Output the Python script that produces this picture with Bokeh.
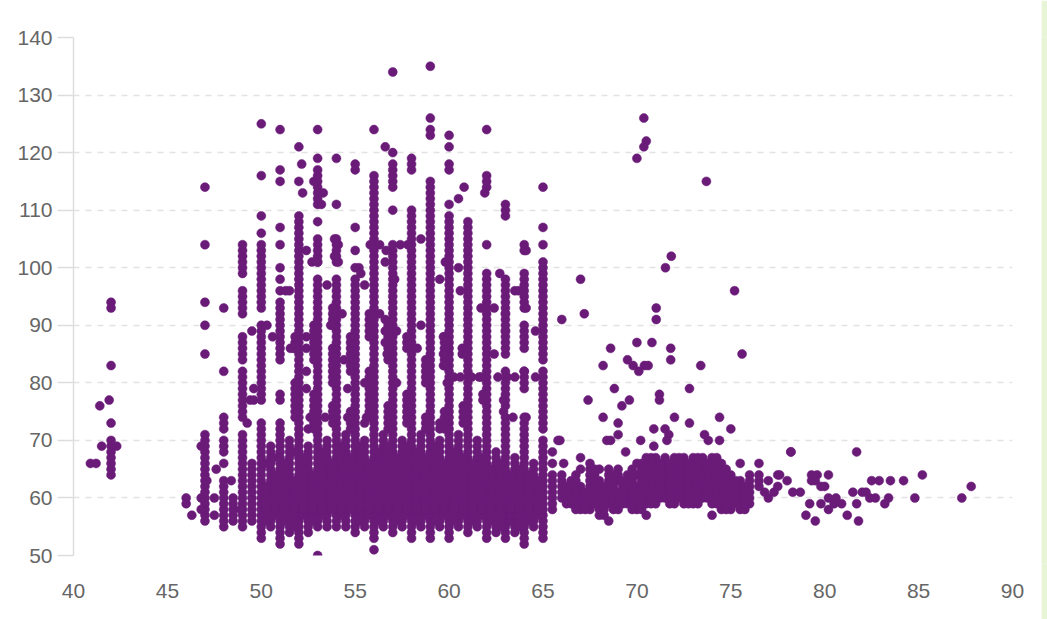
from bokeh.plotting import figure
from bokeh.layouts import row
from bokeh.models import FixedTicker
from bokeh.embed import file_html
from bokeh.resources import INLINE

# ---- data: columns of stacked integer values (x, list of y ranges / single values)
col_x = [42, 47, 48, 49, 50, 51, 52, 53, 54, 55, 56, 57, 58, 59, 60, 61, 62, 63, 64, 65]
col_segs = [
    [(64, 70), 73, 83, 93, 94],
    [(56, 71), 85, 90, 94, 104, 114],
    [(55, 63), 66, (68, 70), (72, 74), 82, 93],
    [(55, 71), (74, 82), (84, 88), (92, 96), (99, 104)],
    [(53, 73), (77, 90), (93, 104), 106, 109, 116, 125],
    [(52, 73), (77, 78), (84, 94), 96, 98, 100, 104, 107, 115, 117, 124],
    [(52, 109), 115, 121],
    [50, (55, 98), (101, 105), 108, (111, 117), 119, 124],
    [(55, 98), (101, 105), 111, 119],
    [(54, 98), 100, 103, 107, (117, 118)],
    [51, (53, 116), 124],
    [(54, 104), 110, (114, 118), 120, 134],
    [(53, 110), (117, 119)],
    [(53, 115), (123, 124), 126, 135],
    [(53, 109), 111, (117, 118), 121, 123],
    [(54, 108)],
    [(53, 99), 104, (114, 116), 124],
    [(53, 74), (76, 82), (85, 98), (109, 111)],
    [(52, 74), (80, 82), (86, 90), (93, 99), (103, 104)],
    [(53, 70), (72, 82), (84, 101), 104, 107, 114],
]

# ---- data: between-column fill of the dense band, side columns and the right-hand cluster
band_x = [47.5, 48.5, 49.5, 50.5, 51.5, 52.5, 53.5, 54.5, 55.5, 56.5, 57.5, 58.5,
          59.5, 60.5, 61.5, 62.5, 63.5, 64.5, 65.5,
          66.0, 66.5, 67.0, 67.5, 68.0, 68.5, 69.0, 69.5, 70.0, 70.5, 71.0, 71.5,
          72.0, 72.5, 73.0, 73.5, 74.0, 74.5, 75.0, 75.5, 76.0, 76.5,
          66.25, 66.75, 67.25, 67.75, 68.25, 68.75, 69.25, 69.75, 70.25, 70.75,
          71.25, 71.75, 72.25, 72.75, 73.25, 73.75, 74.25, 74.75, 75.25, 75.75,
          50.25, 50.75, 51.25, 51.75, 52.25, 52.75, 53.25, 53.75, 54.25, 54.75,
          55.25, 55.75, 56.25, 56.75, 57.25, 57.75, 58.25, 58.75, 59.25, 59.75,
          60.25, 60.75, 61.25, 61.75, 62.25, 62.75, 63.25, 63.75, 64.25, 64.75,
          51.8, 52.8, 53.8, 54.75, 55.75, 56.75, 57.75, 58.75, 59.75, 60.75]
band_segs = [
    [57, 60],
    [(56, 60)],
    [(56, 66)],
    [(55, 69)],
    [(54, 70)],
    [(54, 69), 72],
    [(55, 70)],
    [(55, 71)],
    [(55, 70), 73],
    [(55, 71)],
    [(55, 70)],
    [(55, 71)],
    [(55, 70), 72],
    [(55, 71)],
    [(55, 70)],
    [(54, 68)],
    [(54, 67)],
    [(55, 66)],
    [(58, 64), 66, 68],
    [(60, 64)],
    [(59, 63)],
    [(58, 62), 65, 67],
    [(58, 66)],
    [(57, 63), 65],
    [56, (59, 65)],
    [(58, 61), (63, 65)],
    [(59, 64)],
    [(58, 62), 64, 66],
    [57, (59, 67)],
    [(59, 67)],
    [(60, 67)],
    [(59, 67)],
    [(59, 67)],
    [(59, 67)],
    [(60, 67)],
    [57, (59, 67)],
    [(58, 66)],
    [(58, 64)],
    [(58, 63), 66],
    [(59, 64)],
    [(62, 64), 66],
    [(59, 62)],
    [(58, 64)],
    [(58, 61)],
    [(59, 65)],
    [(57, 62)],
    [(58, 64)],
    [(59, 63)],
    [(58, 65)],
    [(58, 66)],
    [(59, 67)],
    [(60, 66)],
    [(59, 66)],
    [(60, 67)],
    [(59, 66)],
    [(59, 67)],
    [(60, 66)],
    [(59, 67)],
    [(58, 65)],
    [(59, 63)],
    [(58, 62)],
    [(56, 62), 66],
    [(57, 64)],
    [(56, 66)],
    [(55, 63), 68],
    [(57, 67)],
    [(56, 64)],
    [(57, 68)],
    [(58, 66)],
    [(57, 69)],
    [(58, 67)],
    [(56, 69)],
    [(57, 66)],
    [(56, 68)],
    [(57, 69)],
    [(56, 67)],
    [(57, 69)],
    [(56, 68)],
    [(57, 67)],
    [(56, 69)],
    [(57, 66)],
    [(56, 68)],
    [(57, 67)],
    [(56, 66)],
    [(57, 67)],
    [(56, 65)],
    [(55, 66)],
    [(56, 64)],
    [(55, 65)],
    [(56, 64)],
    [(57, 63)],
    [(74, 80), (86, 88)],
    [(72, 78), (84, 90)],
    [(73, 76), (80, 86), (90, 93)],
    [(72, 75), (82, 88)],
    [(74, 82), (88, 92)],
    [(72, 76), (84, 90)],
    [(73, 78), (86, 88)],
    [(72, 74), (80, 84)],
    [(72, 75), (83, 88)],
    [(73, 76)],
]

# ---- data: individual points
pt_x = [40.9, 41.2, 41.4, 41.5, 41.9, 42.3, 46.0, 46.0, 46.3, 46.8, 46.8, 46.8, 47.1,
        47.6, 48.4, 48.9, 49.25, 49.5, 49.6, 49.4, 49.6, 50.3, 50.6, 50.66, 51.3,
        51.5, 51.55, 52.15, 52.2, 52.8, 53.3, 53.2, 52.4, 52.7, 53.0, 53.9, 54.1,
        53.9, 54.1, 54.6, 55.2, 55.3, 55.8, 56.3, 56.65, 56.6, 57.1, 57.4, 56.6,
        57.8, 58.5, 59.5, 59.8, 60.5, 60.5, 60.8, 61.9, 62.7, 63.5, 63.7, 64.1,
        63.0, 64.1, 64.6, 62.4, 64.0, 62.6, 63.1, 63.5, 64.6, 64.0, 62.9, 62.9,
        63.4, 64.1, 65.8, 66.1, 59.9, 60.6, 61.6, 59.8, 61.8, 61.8, 61.7, 62.4,
        63.0, 66.0, 67.0, 67.2, 70.37, 70.5, 70.37, 70.0, 73.7, 71.83, 71.52, 75.2,
        71.03, 71.03, 70.0, 70.8, 68.6, 71.8, 71.8, 75.6, 68.2, 69.5, 69.8, 70.1,
        70.4, 70.6, 73.4, 68.8, 67.4, 69.6, 69.2, 71.2, 71.2, 72.8, 68.2, 69.0,
        69.0, 68.4, 68.6, 70.9, 71.5, 71.7, 71.6, 72.0, 72.8, 74.4, 75.0, 73.6,
        73.8, 74.4, 70.2, 70.9, 69.4, 65.9,
        77.0, 77.0, 77.5, 77.5, 77.6, 78.0, 78.2, 78.3, 78.7, 79.3, 79.6, 80.2,
        79.3, 79.5, 79.8, 80.0, 79.2, 79.8, 80.2, 80.5, 80.9, 80.6, 79.0, 79.5,
        80.2, 81.2, 81.8, 81.5, 81.7, 82.0, 82.4, 82.2, 82.7, 82.5, 82.9, 83.2,
        83.4, 83.5, 84.2, 84.8, 85.2, 87.3, 87.8, 81.7, 78.2, 76.8, 77.3,
        51.7, 52.4, 52.4, 52.4, 52.4, 53.5, 53.7, 54.3, 54.4, 55.5, 55.5, 56.6,
        56.6, 56.6, 57.2, 56.3, 56.7, 57.2, 58.3, 58.5, 59.7, 59.7, 59.7, 60.6,
        60.7, 60.7, 60.25, 59.5, 52.6, 53.4, 54.6, 55.6, 61.2, 61.7]
pt_y = [66, 66, 76, 69, 77, 69, 60, 59, 57, 60, 58, 69, 63,
        65, 63, 58, 73, 89, 79, 77, 77, 90, 88, 67, 96,
        96, 86, 118, 113, 115, 113, 111, 103, 101, 101, 105, 104,
        102, 101, 79, 100, 99, 104, 104, 103, 101, 98, 104, 121,
        104, 105, 98, 101, 100, 112, 114, 113, 99, 96, 96, 103,
        92, 93, 89, 85, 82, 81, 81, 81, 81, 79, 77, 75,
        74, 74, 70, 66, 80, 81, 81, 83, 78, 77, 93, 93,
        89, 91, 98, 92, 126, 122, 121, 119, 115, 102, 100, 96,
        93, 91, 87, 87, 86, 86, 84, 85, 83, 84, 83, 82,
        83, 83, 83, 79, 77, 77, 76, 78, 77, 79, 74, 73,
        71, 70, 70, 72, 72, 71, 70, 74, 73, 74, 72, 71,
        70, 70, 70, 69, 68, 70,
        60, 63, 62, 64, 64, 63, 68, 61, 61, 64, 64, 64,
        63, 63, 62, 62, 59, 59, 60, 59, 59, 60, 57, 56,
        58, 57, 56, 61, 59, 61, 60, 61, 60, 63, 63, 59,
        60, 63, 63, 60, 64, 60, 62, 68, 68, 61, 61,
        86, 88, 86, 82, 79, 97, 90, 92, 84, 97, 80, 91,
        89, 87, 89, 92, 85, 80, 86, 90, 88, 85, 83, 96,
        86, 85, 81, 73, 74, 74, 74, 74, 81, 81]

# ---- tick labels
x_ticks = [40, 45, 50, 55, 60, 65, 70, 75, 80, 85, 90]
y_ticks = [50, 60, 70, 80, 90, 100, 110, 120, 130, 140]


def expand(xs, segs):
    ox, oy = [], []
    for x, sg in zip(xs, segs):
        for s in sg:
            if isinstance(s, tuple):
                for v in range(s[0], s[1] + 1):
                    ox.append(x)
                    oy.append(v)
            else:
                ox.append(x)
                oy.append(s)
    return ox, oy


cx, cy = expand(col_x, col_segs)
bx, by = expand(band_x, band_segs)
all_x = cx + bx + pt_x
all_y = cy + by + pt_y

PURPLE = "#6a1b78"
GRID = "#e2e2e2"
LABEL = "#666666"
FONT = "Liberation Sans"
STRIP = "#e8f4d6"

p = figure(width=1041, height=611, x_range=(40, 90), y_range=(50, 140),
           output_backend="svg", toolbar_location=None,
           min_border_left=73, min_border_right=29, min_border_top=37, min_border_bottom=56)
p.outline_line_color = None
p.background_fill_color = "white"
p.border_fill_color = "white"

p.scatter(all_x, all_y, size=9, fill_color=PURPLE, line_color=PURPLE, line_width=0.5)

p.xaxis.ticker = FixedTicker(ticks=x_ticks)
p.yaxis.ticker = FixedTicker(ticks=y_ticks)
p.xgrid.grid_line_color = None
p.ygrid.grid_line_color = GRID
p.ygrid.grid_line_dash = "6 6"
p.ygrid.grid_line_width = 1.5

p.xaxis.axis_line_color = None
p.xaxis.major_tick_line_color = None
p.xaxis.minor_tick_line_color = None
p.xaxis.major_label_standoff = 22

p.yaxis.axis_line_color = "#dddddd"
p.yaxis.axis_line_width = 1.5
p.yaxis.major_tick_line_color = "#dddddd"
p.yaxis.major_tick_line_width = 1.5
p.yaxis.major_tick_out = 16
p.yaxis.major_tick_in = 0
p.yaxis.minor_tick_line_color = None
p.yaxis.major_label_standoff = 5

for ax in (p.xaxis, p.yaxis):
    ax.major_label_text_font = FONT
    ax.major_label_text_font_size = "21px"
    ax.major_label_text_color = LABEL

# thin light-green strip at the right edge of the page
s = figure(width=6, height=619, output_backend="svg", toolbar_location=None,
           min_border=0, x_range=(0, 1), y_range=(0, 1))
s.axis.visible = False
s.grid.visible = False
s.outline_line_color = None
s.background_fill_color = STRIP
s.border_fill_color = STRIP

layout = row(p, s, spacing=0)

open("out.html", "w").write(file_html(layout, INLINE))
